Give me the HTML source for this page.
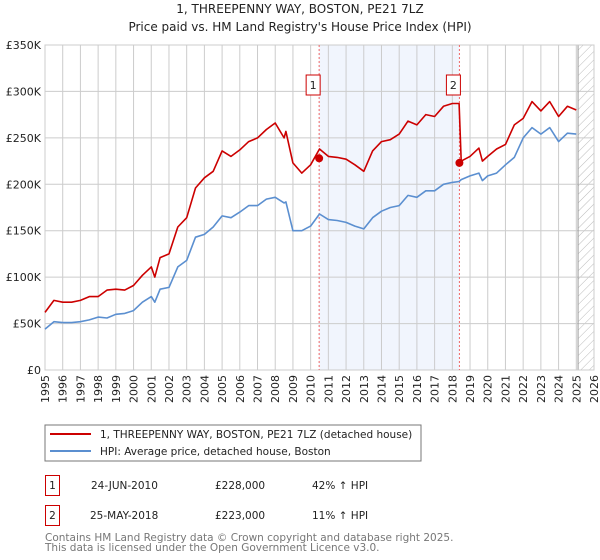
<!DOCTYPE html>
<html><head><meta charset="utf-8"><style>
body{margin:0;background:#fff;width:600px;height:560px;overflow:hidden;font-family:"Liberation Sans","DejaVu Sans",sans-serif}
svg{display:block}
</style></head><body>
<svg id="c" width="600" height="560" xmlns="http://www.w3.org/2000/svg" font-family="DejaVu Sans, Liberation Sans, sans-serif">
<defs><pattern id="hatch" width="6" height="6" patternUnits="userSpaceOnUse" patternTransform="rotate(45)"><line x1="0" y1="0" x2="0" y2="6" stroke="#bbb" stroke-width="1"/></pattern></defs>
<text x="300" y="13" text-anchor="middle" font-size="12" fill="#222">1, THREEPENNY WAY, BOSTON, PE21 7LZ</text>
<text x="300" y="31" text-anchor="middle" font-size="12" fill="#222">Price paid vs. HM Land Registry's House Price Index (HPI)</text>
<g id="grid"></g><g id="marks"></g><g id="axes"></g>
<rect x="45" y="425" width="376" height="36" fill="#fff" stroke="#777"/>
<line x1="50" y1="434" x2="91" y2="434" stroke="#cc0000" stroke-width="2"/>
<text x="100" y="438" font-size="10.5" fill="#222">1, THREEPENNY WAY, BOSTON, PE21 7LZ (detached house)</text>
<line x1="50" y1="451" x2="91" y2="451" stroke="#5b8fd0" stroke-width="2"/>
<text x="100" y="455" font-size="10.5" fill="#222">HPI: Average price, detached house, Boston</text>
<g font-size="10.5" fill="#222">
<rect x="45.5" y="475.5" width="14" height="20" fill="none" stroke="#cc0000"/>
<text x="52.5" y="489" text-anchor="middle">1</text>
<text x="91" y="489">24-JUN-2010</text>
<text x="215" y="489">£228,000</text>
<text x="312" y="489">42% ↑ HPI</text>
<rect x="45.5" y="505.5" width="14" height="20" fill="none" stroke="#cc0000"/>
<text x="52.5" y="519" text-anchor="middle">2</text>
<text x="90" y="519">25-MAY-2018</text>
<text x="215" y="519">£223,000</text>
<text x="312" y="519">11% ↑ HPI</text>
</g>
<text x="45" y="541" font-size="10.5" fill="#777">Contains HM Land Registry data © Crown copyright and database right 2025.</text>
<text x="45" y="551" font-size="10.5" fill="#777">This data is licensed under the Open Government Licence v3.0.</text>
</svg>
<script>
const years=[1995,1995.5,1996,1996.5,1997,1997.5,1998,1998.5,1999,1999.5,2000,2000.5,2001,2001.2,2001.5,2002,2002.5,2003,2003.5,2004,2004.5,2005,2005.5,2006,2006.5,2007,2007.5,2008,2008.5,2008.6,2009,2009.5,2010,2010.5,2011,2011.5,2012,2012.5,2013,2013.5,2014,2014.5,2015,2015.5,2016,2016.5,2017,2017.5,2018,2018.38,2018.5,2019,2019.5,2019.7,2020,2020.5,2021,2021.5,2022,2022.5,2023,2023.5,2024,2024.5,2025];
const hpiValues=[44,52,51,51,52,54,57,56,60,61,64,73,79,73,87,89,111,118,143,146,154,166,164,170,177,177,184,186,180,181,150,150,155,168,162,161,159,155,152,164,171,175,177,188,186,193,193,200,202,203,205,209,212,204,209,212,221,229,250,261,254,261,246,255,254];
const propValues=[62,75,73,73,75,79,79,86,87,86,91,102,111,100,121,125,154,164,196,207,214,236,230,237,246,250,259,266,250,257,223,212,221,238,230,229,227,221,214,236,246,248,254,268,264,275,273,284,287,287,225,230,239,225,230,238,243,264,271,289,279,289,273,284,280];
const yTicks=[0,50,100,150,200,250,300,350];
const yTickLabels=["£0","£50K","£100K","£150K","£200K","£250K","£300K","£350K"];
const xTicks=[1995,1996,1997,1998,1999,2000,2001,2002,2003,2004,2005,2006,2007,2008,2009,2010,2011,2012,2013,2014,2015,2016,2017,2018,2019,2020,2021,2022,2023,2024,2025,2026];
const saleYears=[2010.48,2018.4];
const saleValues=[228,223];
const saleLabels=["1","2"];
const X0=45,X1=594,Y0=370,Y1=45;
const x=v=>X0+(v-1995)/(2026-1995)*(X1-X0);
const y=v=>Y0-v/350*(Y0-Y1);
const NS="http://www.w3.org/2000/svg";
function mk(t,a,p){const e=document.createElementNS(NS,t);for(const k in a)e.setAttribute(k,a[k]);p.appendChild(e);return e;}
const grid=document.getElementById('grid'),marks=document.getElementById('marks'),axes=document.getElementById('axes');
const band=mk('rect',{x:x(saleYears[0]),y:Y1,width:x(saleYears[1])-x(saleYears[0]),height:Y0-Y1,fill:'#eef2fc',opacity:0.8},grid);


const hat=mk('rect',{x:x(2025.1),y:Y1,width:X1-x(2025.1),height:Y0-Y1,fill:'url(#hatch)'},grid);


xTicks.forEach(t=>{const l=mk('line',{x1:x(t),x2:x(t),y1:Y1,y2:Y0,stroke:'#ccc'},grid);


const tx=mk('text',{x:0,y:0,transform:`translate(${x(t)+4},${Y0+5}) rotate(-90)`,'text-anchor':'end','font-size':'11',fill:'#222'},axes);tx.textContent=t;

});
yTicks.forEach((t,i)=>{const l=mk('line',{x1:X0,x2:X1,y1:y(t),y2:y(t),stroke:'#ccc'},grid);


const tx=mk('text',{x:X0-4,y:y(t)+4,'text-anchor':'end','font-size':'11',fill:'#222'},axes);tx.textContent=yTickLabels[i];

});
const vl=mk('line',{x1:x(2025.1),x2:x(2025.1),y1:Y1,y2:Y0,stroke:'#999'},grid);


const fr=mk('rect',{x:X0,y:Y1,width:X1-X0,height:Y0-Y1,fill:'none',stroke:'#ccc'},grid);


saleYears.forEach((s,i)=>{const l=mk('line',{x1:x(s),x2:x(s),y1:Y1,y2:Y0,stroke:'#e66','stroke-dasharray':'2,2'},marks);


const bx=mk('rect',{x:x(s)-13,y:75,width:14,height:20,fill:'#fff',stroke:'#cc0000'},marks);


const bt=mk('text',{x:x(s)-6,y:89,'text-anchor':'middle','font-size':'11',fill:'#222'},marks);bt.textContent=saleLabels[i];

});
function path(vals,col,name){const d=vals.map((v,i)=>(i?'L':'M')+x(years[i]).toFixed(1)+','+y(v).toFixed(1)).join('');
const p=mk('path',{d:d,fill:'none',stroke:col,'stroke-width':1.6,'stroke-linejoin':'round'},marks);

}
path(hpiValues,'#5b8fd0','hpi-line');
path(propValues,'#cc0000','property-price-line');
saleYears.forEach((s,i)=>{const c=mk('circle',{cx:x(s),cy:y(saleValues[i]),r:4,fill:'#cc0000'},marks);

});
</script>
</body></html>
